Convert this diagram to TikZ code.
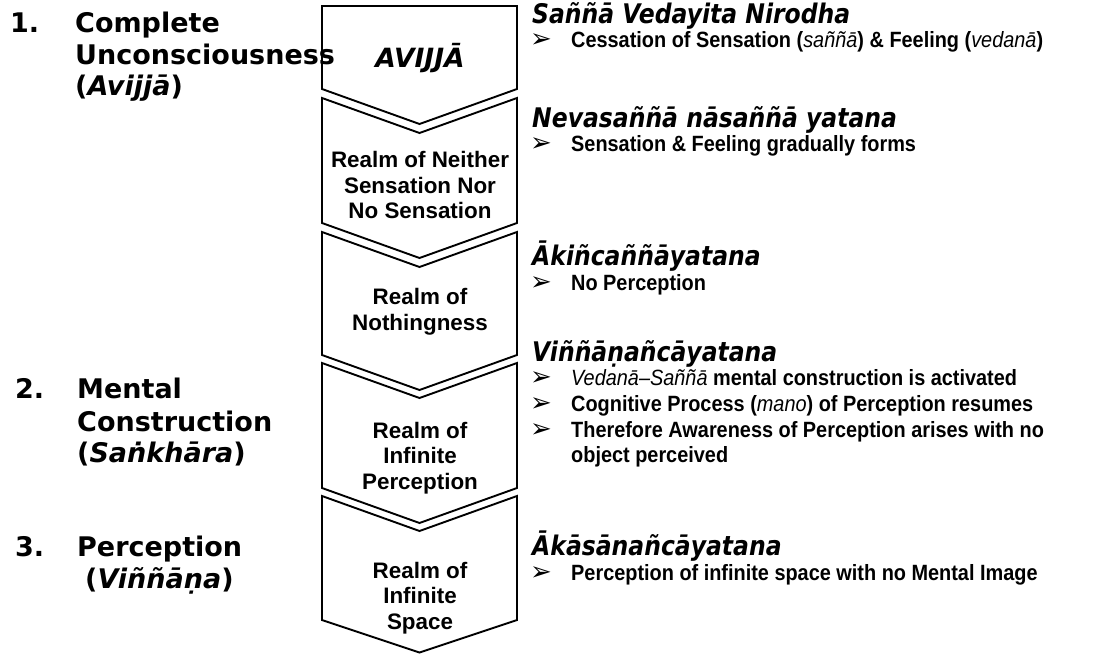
\documentclass[tikz,border=0pt]{standalone}
\usepackage{fontspec}
\setmainfont{Liberation Sans}
\newfontfamily\bodyfont{Liberation Sans}[FakeStretch=0.9]
\newfontfamily\chevfont{Liberation Sans}
\newfontfamily\headfont{DejaVu Sans}[FakeStretch=0.87]
\newfontfamily\vfont{DejaVu Sans}
\newfontfamily\symfont{DejaVu Sans}
\begin{document}
\begin{tikzpicture}[x=1pt,y=-1pt,
  chev/.style={draw=black, line width=1.9pt, fill=white, line join=miter},
  lab/.style={font=\vfont\bfseries\fontsize{27}{31}\selectfont, anchor=base west, inner sep=0},
  head/.style={font=\headfont\bfseries\itshape\fontsize{27}{30}\selectfont, anchor=base west, inner sep=0},
  body/.style={font=\bodyfont\bfseries\fontsize{22.1}{26}\selectfont, anchor=base west, inner sep=0},
  bul/.style={font=\symfont\fontsize{26}{26}\selectfont, anchor=base west, inner sep=0},
  ctext/.style={font=\chevfont\bfseries\fontsize{22.4}{25.5}\selectfont, align=center, inner sep=0},
]
\useasboundingbox (0,0) rectangle (1112,654);
% chevrons
\draw[chev] (322,6) -- (517,6) -- (517,89) -- (419.5,124) -- (322,89) -- cycle;
\draw[chev] (322,98) -- (419.5,133) -- (517,98) -- (517,223) -- (419.5,258) -- (322,223) -- cycle;
\draw[chev] (322,232) -- (419.5,267) -- (517,232) -- (517,355) -- (419.5,390) -- (322,355) -- cycle;
\draw[chev] (322,363) -- (419.5,398) -- (517,363) -- (517,488) -- (419.5,523) -- (322,488) -- cycle;
\draw[chev] (322,496) -- (419.5,531) -- (517,496) -- (517,620) -- (419.5,652.5) -- (322,620) -- cycle;
% chevron texts
\node[font=\vfont\bfseries\itshape\fontsize{26.5}{30}\selectfont, inner sep=0] (c1) at (420,58) {AVIJJĀ};
\node[ctext] (c2) at (420,185) {Realm of Neither\\Sensation Nor\\No Sensation};
\node[ctext] (c3) at (420,312) {Realm of\\Nothingness};
\node[ctext] (c4) at (420,458) {Realm of\\Infinite\\Perception};
\node[ctext] (c5) at (420,598) {Realm of\\Infinite\\Space};
% left labels
\node[lab] (n1) at (10,32) {1.};
\node[lab] (l1a) at (75,32) {Complete};
\node[lab] (l1b) at (75,64) {Unconsciousness};
\node[lab] (l1c) at (75,95) {(\textit{Avijjā})};
\node[lab] (n2) at (15,398) {2.};
\node[lab] (l2a) at (77,398) {Mental};
\node[lab] (l2b) at (77,431) {Construction};
\node[lab] (l2c) at (77,462) {(\textit{Saṅkhāra})};
\node[lab] (n3) at (15,556) {3.};
\node[lab] (l3a) at (77,556) {Perception};
\node[lab] (l3b) at (85,588) {(\textit{Viññāṇa})};
% right headings
\node[head] (h1) at (532,23) {Saññā Vedayita Nirodha};
\node[head] (h2) at (532,127) {Nevasaññā nāsaññā yatana};
\node[head] (h3) at (532,265) {Ākiñcaññāyatana};
\node[head] (h4) at (532,361) {Viññāṇañcāyatana};
\node[head] (h5) at (532,555) {Ākāsānañcāyatana};
% bullets
\node[bul] (b1) at (530,47) {➢};
\node[body] (t1) at (571,47) {Cessation of Sensation (\textmd{\textit{saññā}}) \& Feeling (\textmd{\textit{vedanā}})};
\node[bul] (b2) at (530,151) {➢};
\node[body] (t2) at (571,151) {Sensation \& Feeling gradually forms};
\node[bul] (b3) at (530,290) {➢};
\node[body] (t3) at (571,290) {No Perception};
\node[bul] (b4) at (530,385) {➢};
\node[body] (t4) at (571,385) {\textmd{\textit{Vedanā–Saññā}} mental construction is activated};
\node[bul] (b5) at (530,411) {➢};
\node[body] (t5) at (571,411) {Cognitive Process (\textmd{\textit{mano}}) of Perception resumes};
\node[bul] (b6) at (530,437) {➢};
\node[body] (t6) at (571,437) {Therefore Awareness of Perception arises with no};
\node[body] (t7) at (571,462) {object perceived};
\node[bul] (b8) at (530,580) {➢};
\node[body] (t8) at (571,580) {Perception of infinite space with no Mental Image};
\end{tikzpicture}
\end{document}
